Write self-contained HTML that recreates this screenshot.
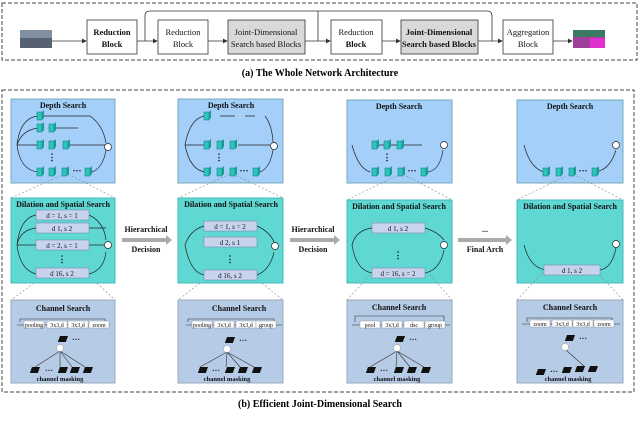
<!DOCTYPE html>
<html><head><meta charset="utf-8"><style>
body{margin:0;background:#fff}
svg{display:block;font-family:"Liberation Serif",serif}
</style></head><body>
<svg width="640" height="426" viewBox="0 0 640 426" xmlns="http://www.w3.org/2000/svg">
<defs>
<marker id="a" markerWidth="6" markerHeight="6" refX="5" refY="3" orient="auto"><path d="M0,0 L6,3 L0,6z" fill="#333"/></marker>
<g id="cube"><rect x="0" y="0" width="5" height="8" fill="#2cc4bd" stroke="#177" stroke-width="0.5"/><path d="M5,0 l2,-2 v8 l-2,2z" fill="#1a9a95"/></g>
<g id="bk"><rect x="0" y="0" width="8" height="6" fill="#111" transform="skewX(-20)"/></g>
</defs>
<!-- (a) -->
<rect x="2" y="3" width="635" height="57" fill="none" stroke="#444" stroke-dasharray="4,2"/>
<rect x="20" y="30" width="32" height="18" fill="#556070"/>
<rect x="20" y="30" width="32" height="8" fill="#8090a0"/>
<g stroke="#333" fill="none" stroke-width="0.8">
<line x1="52" y1="41" x2="86" y2="41" marker-end="url(#a)"/>
<line x1="137" y1="41" x2="157" y2="41" marker-end="url(#a)"/>
<line x1="208" y1="41" x2="227" y2="41" marker-end="url(#a)"/>
<line x1="305" y1="41" x2="330" y2="41" marker-end="url(#a)"/>
<line x1="382" y1="41" x2="400" y2="41" marker-end="url(#a)"/>
<line x1="478" y1="41" x2="502" y2="41" marker-end="url(#a)"/>
<line x1="553" y1="41" x2="572" y2="41" marker-end="url(#a)"/>
<path d="M145,41 V16 Q145,11 150,11 H487 Q492,11 492,16 V41"/>
<line x1="318" y1="11" x2="318" y2="41"/>
</g>
<g stroke="#333" stroke-width="0.8">
<rect x="87" y="20" width="50" height="34" fill="#fff"/>
<rect x="158" y="20" width="50" height="34" fill="#fff"/>
<rect x="228" y="20" width="77" height="34" fill="#d9d9d9"/>
<rect x="331" y="20" width="51" height="34" fill="#fff"/>
<rect x="401" y="20" width="77" height="34" fill="#d9d9d9"/>
<rect x="503" y="20" width="50" height="34" fill="#fff"/>
</g>
<rect x="573" y="30" width="32" height="18" fill="#a0409a"/>
<rect x="573" y="30" width="32" height="7" fill="#3a7a60"/>
<rect x="590" y="38" width="15" height="10" fill="#e030d0"/>
<g font-size="8.5" text-anchor="middle" fill="#111">
<text x="112" y="35" font-weight="bold">Reduction</text><text x="112" y="47" font-weight="bold">Block</text>
<text x="183" y="35">Reduction</text><text x="183" y="47">Block</text>
<text x="266" y="35">Joint-Dimensional</text><text x="266" y="47">Search based Blocks</text>
<text x="356" y="35">Reduction</text><text x="356" y="47" font-weight="bold">Block</text>
<text x="439" y="35" font-weight="bold">Joint-Dimensional</text><text x="439" y="47" font-weight="bold">Search based Blocks</text>
<text x="528" y="35">Aggregation</text><text x="528" y="47">Block</text>
</g>
<text x="320" y="76" font-size="10" font-weight="bold" text-anchor="middle">(a) The Whole Network Architecture</text>

<!-- (b) -->
<rect x="2" y="90" width="632" height="302" fill="none" stroke="#444" stroke-dasharray="4,2"/>
<text x="320" y="407" font-size="10" font-weight="bold" text-anchor="middle">(b) Efficient Joint-Dimensional Search</text>

<g id="cols" font-weight="bold" font-size="8" text-anchor="middle" fill="#111">
<!-- col boxes -->
<rect x="11" y="99" width="104" height="84" fill="#a3cff9" stroke="#7ab"/>
<rect x="11" y="198" width="104" height="85" fill="#5fd8d4" stroke="#4bb"/>
<rect x="11" y="300" width="104" height="83" fill="#b6cbe6" stroke="#9ab"/>
<rect x="178" y="99" width="105" height="84" fill="#a3cff9" stroke="#7ab"/>
<rect x="178" y="198" width="105" height="85" fill="#5fd8d4" stroke="#4bb"/>
<rect x="178" y="300" width="105" height="83" fill="#b6cbe6" stroke="#9ab"/>
<rect x="347" y="100" width="105" height="83" fill="#a3cff9" stroke="#7ab"/>
<rect x="347" y="200" width="105" height="83" fill="#5fd8d4" stroke="#4bb"/>
<rect x="347" y="300" width="105" height="83" fill="#b6cbe6" stroke="#9ab"/>
<rect x="517" y="100" width="106" height="83" fill="#a3cff9" stroke="#7ab"/>
<rect x="517" y="200" width="106" height="83" fill="#5fd8d4" stroke="#4bb"/>
<rect x="517" y="300" width="106" height="83" fill="#b6cbe6" stroke="#9ab"/>
<text x="63" y="108">Depth Search</text><text x="63" y="207">Dilation and Spatial Search</text><text x="63" y="311">Channel Search</text>
<text x="231" y="108">Depth Search</text><text x="231" y="207">Dilation and Spatial Search</text><text x="239" y="311">Channel Search</text>
<text x="399" y="109">Depth Search</text><text x="399" y="209">Dilation and Spatial Search</text><text x="399" y="310">Channel Search</text>
<text x="570" y="109">Depth Search</text><text x="570" y="209">Dilation and Spatial Search</text><text x="570" y="310">Channel Search</text>
</g>

<!-- zoom dashes -->
<g stroke="#888" stroke-width="0.6" stroke-dasharray="2,2" fill="none">
<path d="M64,174 L11,198 M68,174 L115,198 M34,283 L11,300 M97,283 L115,300"/>
<path d="M230,174 L178,198 M233,174 L283,198 M200,283 L178,300 M262,283 L283,300"/>
<path d="M400,174 L347,200 M403,174 L452,200 M370,275 L347,300 M430,275 L452,300"/>
<path d="M570,174 L517,200 M573,174 L623,200 M543,272 L517,300 M597,272 L623,300"/>
</g>

<!-- depth contents -->
<g stroke="#222" stroke-width="0.7" fill="none">
<path d="M17,145 Q20,118 38,116 M17,145 Q22,130 38,128 M17,145 H38 M17,145 Q20,170 38,172"/>
<path d="M44,116 H90 Q103,125 106,143 M56,128 H78 M70,145 H106 M92,172 Q103,168 106,150"/>
<circle cx="108" cy="147" r="3.5" fill="#fff"/>
<path d="M185,145 Q190,118 205,116 M185,145 H205 M185,145 Q190,170 205,172"/>
<path d="M220,116 H235 M245,116 H255 M265,116 Q272,125 273,142 M238,145 H270 M260,172 Q270,168 273,150"/>
<circle cx="274" cy="146" r="3.5" fill="#fff"/>
<path d="M352,145 Q358,168 370,172 M375,145 H422"/>
<path d="M428,172 Q440,170 443,150"/>
<circle cx="444" cy="145" r="3.5" fill="#fff"/>
<path d="M524,145 Q530,168 544,172 M595,172 Q610,170 616,150"/>
<circle cx="616" cy="145" r="3.5" fill="#fff"/>
</g>
<g>
<use href="#cube" x="37" y="112"/><use href="#cube" x="37" y="124"/><use href="#cube" x="49" y="124"/>
<use href="#cube" x="37" y="141"/><use href="#cube" x="49" y="141"/><use href="#cube" x="63" y="141"/>
<use href="#cube" x="37" y="168"/><use href="#cube" x="49" y="168"/><use href="#cube" x="62" y="168"/><use href="#cube" x="85" y="168"/>
<use href="#cube" x="204" y="112"/><use href="#cube" x="204" y="141"/><use href="#cube" x="217" y="141"/><use href="#cube" x="230" y="141"/>
<use href="#cube" x="204" y="168"/><use href="#cube" x="217" y="168"/><use href="#cube" x="230" y="168"/><use href="#cube" x="253" y="168"/>
<use href="#cube" x="372" y="141"/><use href="#cube" x="384" y="141"/><use href="#cube" x="397" y="141"/>
<use href="#cube" x="372" y="168"/><use href="#cube" x="385" y="168"/><use href="#cube" x="398" y="168"/><use href="#cube" x="421" y="168"/>
<use href="#cube" x="543" y="168"/><use href="#cube" x="556" y="168"/><use href="#cube" x="569" y="168"/><use href="#cube" x="592" y="168"/>
</g>
<g font-size="9" font-weight="bold" text-anchor="middle" fill="#111">
<text x="52" y="160">⋮</text><text x="219" y="160">⋮</text><text x="387" y="160">⋮</text>
<text x="77" y="174">···</text><text x="244" y="174">···</text><text x="412" y="174">···</text><text x="583" y="174">···</text>
</g>

<!-- dilation contents -->
<g stroke="#222" stroke-width="0.7" fill="none">
<path d="M17,245 Q20,218 36,215 M17,245 Q20,230 36,228 M17,245 H36 M17,245 Q20,270 36,274"/>
<path d="M89,215 Q104,222 106,240 M89,228 H106 M89,245 H106 M89,274 Q104,270 106,252"/>
<circle cx="108" cy="245" r="3.5" fill="#fff"/>
<path d="M185,245 Q190,230 204,226 M185,245 Q190,272 204,275 M257,226 Q270,232 274,242 M257,275 Q270,270 274,252"/>
<circle cx="275" cy="246" r="3.5" fill="#fff"/>
<path d="M352,245 Q356,230 372,228 M352,245 Q356,270 372,273 M425,228 Q438,232 444,240 M425,273 Q440,270 444,250"/>
<circle cx="444" cy="245" r="3.5" fill="#fff"/>
<path d="M524,245 Q530,268 546,270 M600,270 Q612,268 616,248"/>
<circle cx="616" cy="244" r="3.5" fill="#fff"/>
</g>
<g font-size="7" text-anchor="middle" fill="#111">
<g fill="#c8d4ee" stroke="#7080a0" stroke-width="0.5">
<rect x="36" y="210" width="53" height="10"/><rect x="36" y="223" width="53" height="10"/><rect x="36" y="240" width="53" height="10"/><rect x="36" y="268" width="53" height="10"/>
<rect x="204" y="221" width="53" height="10"/><rect x="204" y="237" width="53" height="10"/><rect x="204" y="270" width="53" height="10"/>
<rect x="372" y="223" width="53" height="10"/><rect x="372" y="268" width="53" height="10"/>
<rect x="544" y="265" width="56" height="10"/>
</g>
<text x="62" y="218">d = 1, s = 1</text><text x="62" y="231">d   1, s   2</text><text x="62" y="248">d = 2, s = 1</text><text x="62" y="276">d   16, s   2</text>
<text x="230" y="229">d = 1, s = 2</text><text x="230" y="245">d   2, s   1</text><text x="230" y="278">d   16, s   2</text>
<text x="398" y="231">d   1, s   2</text><text x="398" y="276">d = 16, s = 2</text>
<text x="572" y="273">d   1, s   2</text>
<g font-size="9" font-weight="bold"><text x="62" y="262">⋮</text><text x="230" y="262">⋮</text><text x="398" y="258">⋮</text></g>
</g>

<!-- arrows between -->
<g fill="#aaa">
<path d="M122,238 H166 V235 L172,240 L166,245 V242 H122z"/>
<path d="M290,238 H334 V235 L340,240 L334,245 V242 H290z"/>
<path d="M458,238 H506 V235 L512,240 L506,245 V242 H458z"/>
</g>
<g font-size="8" font-weight="bold" text-anchor="middle" fill="#111">
<text x="146" y="232">Hierarchical</text><text x="146" y="252">Decision</text>
<text x="313" y="232">Hierarchical</text><text x="313" y="252">Decision</text>
<text x="485" y="232">...</text><text x="485" y="252">Final Arch</text>
</g>

<!-- channel contents -->
<g stroke="#333" stroke-width="0.6" fill="none">
<path d="M20,322 V319 H105 V322 M17,325 H110"/>
<path d="M186,325 H282 M188,322 V319 H274 V322"/>
<path d="M352,325 H450 M355,322 V316 H444 V322"/>
<path d="M522,324 H620 M527,322 V318 H612 V322"/>
<path d="M60,351 L35,367 M60,351 L60,367 M60,351 L72,367 M60,351 L85,367"/>
<path d="M227,352 L200,367 M227,352 L226,367 M227,352 L240,367 M227,352 L254,367"/>
<path d="M397,351 L370,367 M397,351 L396,367 M397,351 L410,367 M397,351 L424,367"/>
<path d="M566,350 L585,367"/>
</g>
<g fill="#fff" stroke="#888" stroke-width="0.4">
<rect x="24" y="321" width="20" height="7"/><rect x="47" y="321" width="20" height="7"/><rect x="68" y="321" width="20" height="7"/><rect x="89" y="321" width="20" height="7"/>
<rect x="192" y="321" width="20" height="7"/><rect x="214" y="321" width="20" height="7"/><rect x="236" y="321" width="20" height="7"/><rect x="256" y="321" width="20" height="7"/>
<rect x="360" y="321" width="20" height="7"/><rect x="382" y="321" width="20" height="7"/><rect x="404" y="321" width="20" height="7"/><rect x="425" y="321" width="20" height="7"/>
<rect x="530" y="320" width="20" height="7"/><rect x="552" y="320" width="20" height="7"/><rect x="573" y="320" width="20" height="7"/><rect x="594" y="320" width="20" height="7"/>
<circle cx="60" cy="348" r="3.5"/><circle cx="227" cy="349" r="3.5"/><circle cx="397" cy="348" r="3.5"/><circle cx="565" cy="347" r="3.5"/>
</g>
<g>
<use href="#bk" x="60" y="336"/><use href="#bk" x="227" y="337"/><use href="#bk" x="397" y="336"/><use href="#bk" x="567" y="335"/>
<use href="#bk" x="32" y="367"/><use href="#bk" x="60" y="367"/><use href="#bk" x="72" y="367"/><use href="#bk" x="85" y="367"/>
<use href="#bk" x="200" y="367"/><use href="#bk" x="227" y="367"/><use href="#bk" x="240" y="367"/><use href="#bk" x="254" y="367"/>
<use href="#bk" x="368" y="367"/><use href="#bk" x="396" y="367"/><use href="#bk" x="409" y="367"/><use href="#bk" x="423" y="367"/>
<use href="#bk" x="538" y="369"/><use href="#bk" x="564" y="367"/><use href="#bk" x="577" y="366"/><use href="#bk" x="590" y="366"/>
</g>
<g font-size="6" text-anchor="middle" fill="#111">
<text x="34" y="327">pooling</text><text x="57" y="327">3x3,d</text><text x="78" y="327">3x3,d</text><text x="99" y="327">zoom</text>
<text x="202" y="327">pooling</text><text x="224" y="327">3x3,d</text><text x="246" y="327">3x3,d</text><text x="266" y="327">group</text>
<text x="370" y="327">pool</text><text x="392" y="327">3x3,d</text><text x="414" y="327">dsc</text><text x="435" y="327">group</text>
<text x="540" y="326">zoom</text><text x="562" y="326">3x3,d</text><text x="583" y="326">3x3,d</text><text x="604" y="326">zoom</text>
<g font-weight="bold" font-size="6.5"><text x="60" y="381">channel masking</text><text x="227" y="381">channel masking</text><text x="397" y="381">channel masking</text><text x="568" y="381">channel masking</text></g>
<g font-size="8" font-weight="bold"><text x="76" y="342">···</text><text x="243" y="343">···</text><text x="413" y="342">···</text><text x="583" y="341">···</text>
<text x="49" y="373">···</text><text x="216" y="373">···</text><text x="384" y="373">···</text><text x="554" y="374">···</text></g>
</g>
</svg>
</body></html>
